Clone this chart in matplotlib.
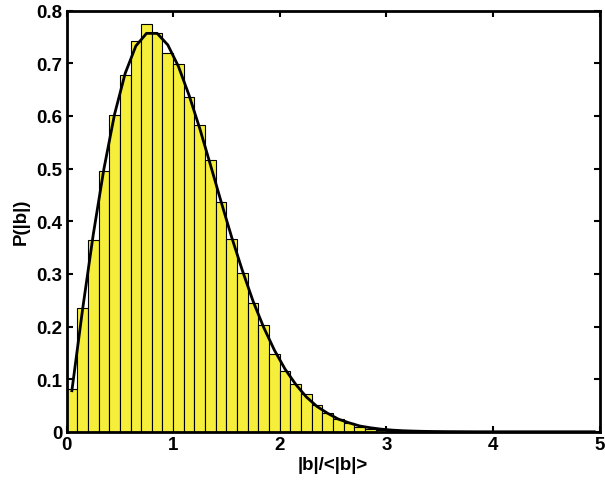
import matplotlib
matplotlib.use("Agg")
import matplotlib.pyplot as plt
import numpy as np

# Histogram: bin edges start at 0, width 0.1
bin_width = 0.1
hist_values = [0.081, 0.236, 0.364, 0.495, 0.601, 0.677, 0.743, 0.774, 0.758, 0.719,
               0.698, 0.637, 0.583, 0.516, 0.437, 0.366, 0.302, 0.245, 0.202, 0.148,
               0.115, 0.090, 0.072, 0.050, 0.035, 0.024, 0.016, 0.010, 0.006, 0.0035,
               0.0018, 0.001, 0.0005]

# Fitted curve, sampled at bin centres 0.05 ... 4.95
curve_values = [0.078, 0.232, 0.374, 0.499, 0.603, 0.681, 0.733, 0.757, 0.757, 0.735,
                0.694, 0.639, 0.576, 0.507, 0.437, 0.369, 0.306, 0.248, 0.198, 0.155,
                0.119, 0.090, 0.066, 0.048, 0.035, 0.024, 0.017, 0.011, 0.0076, 0.0050,
                0.0032, 0.0020, 0.0013, 0.0008, 0.0005, 0.0003, 0.0002, 0.0001, 0.0, 0.0,
                0.0, 0.0, 0.0, 0.0, 0.0, 0.0, 0.0, 0.0, 0.0, 0.0]

x_ticks = [0, 1, 2, 3, 4, 5]
y_ticks = [0, 0.1, 0.2, 0.3, 0.4, 0.5, 0.6, 0.7, 0.8]
x_label = "|b|/<|b|>"
y_label = "P(|b|)"

plt.rcParams['font.family'] = ['Liberation Sans', 'DejaVu Sans']
plt.rcParams['font.weight'] = 'bold'

fig = plt.figure(figsize=(6.05, 4.89), dpi=100)
ax = fig.add_axes([0.110, 0.115, 0.881, 0.861])

lefts = np.arange(len(hist_values)) * bin_width
ax.bar(lefts, hist_values, width=bin_width, align='edge',
       color='#f5ee3a', edgecolor='black', linewidth=0.8, zorder=2)

centres = np.arange(len(curve_values)) * bin_width + bin_width / 2
ax.plot(centres, curve_values, color='black', linewidth=2.0, zorder=3)

ax.set_xlim(0, 5)
ax.set_ylim(0, 0.8)
ax.set_xticks(x_ticks)
ax.set_yticks(y_ticks)
ax.set_xticklabels([str(t) for t in x_ticks])
ax.set_yticklabels(['0'] + [f"{t:.1f}" for t in y_ticks[1:]])
ax.tick_params(direction='in', length=4, width=1.5, top=True, right=True,
               labelsize=13.5, pad=3)
for lab in ax.get_xticklabels() + ax.get_yticklabels():
    lab.set_fontweight('bold')
for s in ax.spines.values():
    s.set_linewidth(2.0)
    s.set_zorder(5)

ax.set_xlabel(x_label, fontsize=13.5, fontweight='bold', labelpad=2)
ax.set_ylabel(y_label, fontsize=13.5, fontweight='bold', labelpad=5)

fig.savefig("out.png", dpi=100)
